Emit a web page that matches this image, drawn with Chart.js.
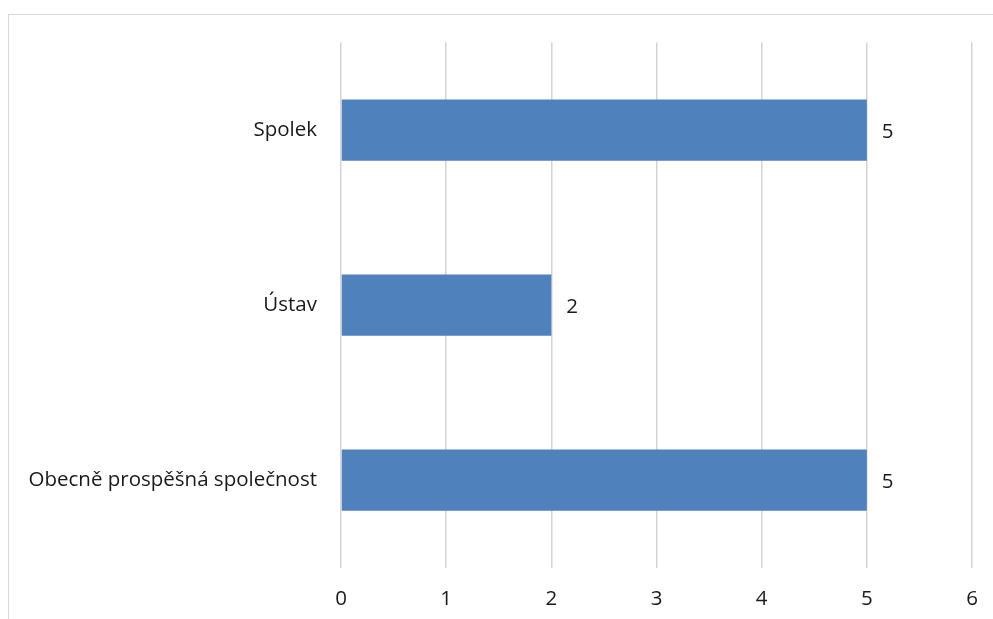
<!DOCTYPE html>
<html lang="cs">
<head>
  <meta charset="UTF-8" />
  <title>Právní forma</title>
  <script src="https://cdn.jsdelivr.net/npm/chart.js"></script>
  <style>
    html, body {
      margin: 0;
      padding: 0;
      background: #ffffff;
      overflow: hidden;
    }
    #frame {
      position: absolute;
      left: 8px;
      top: 14px;
      width: 1000px;
      height: 700px;
      border: 1px solid #d9d9d9;
    }
    #wrap {
      position: absolute;
      left: 0;
      top: 0;
      width: 993px;
      height: 619px;
    }
  </style>
</head>
<body>
  <div id="frame"></div>
  <div id="wrap"><canvas id="chart" width="993" height="619"></canvas></div>

  <script>
    const categories = ['Spolek', 'Ústav', 'Obecně prospěšná společnost'];
    const counts = [5, 2, 5];
    const xTicks = [0, 1, 2, 3, 4, 5, 6];

    const fontFamily = "'Open Sans', 'Noto Sans', sans-serif";
    const fontSize = 20.5;

    // writes the value just right of each bar end
    const valueLabels = {
      id: 'valueLabels',
      afterDatasetsDraw(chart) {
        const ctx = chart.ctx;
        const meta = chart.getDatasetMeta(0);
        ctx.save();
        ctx.font = fontSize + 'px ' + fontFamily;
        ctx.fillStyle = '#1a1a1a';
        ctx.textAlign = 'left';
        ctx.textBaseline = 'middle';
        meta.data.forEach((bar, i) => {
          ctx.fillText(String(counts[i]), bar.x + 15, bar.y + 2);
        });
        ctx.restore();
      }
    };

    new Chart(document.getElementById('chart'), {
      type: 'bar',
      data: {
        labels: categories,
        datasets: [{
          data: counts,
          backgroundColor: '#4f81bd',
          borderWidth: 0,
          categoryPercentage: 1,
          barPercentage: 0.35
        }]
      },
      options: {
        indexAxis: 'y',
        responsive: false,
        animation: false,
        layout: { padding: { top: 42.5, right: 21, bottom: 0, left: 0 } },
        plugins: {
          legend: { display: false },
          tooltip: { enabled: false }
        },
        scales: {
          x: {
            min: 0,
            max: 6,
            afterFit(scale) {
              scale.height = 51.5;
              scale.paddingLeft = 0;
              scale.paddingRight = 0;
            },
            afterBuildTicks(scale) { scale.ticks = xTicks.map(v => ({ value: v })); },
            grid: { color: '#d4d4d4', lineWidth: 1.5, drawTicks: false },
            border: { display: false },
            ticks: {
              padding: 19,
              color: '#1a1a1a',
              font: { family: fontFamily, size: fontSize }
            }
          },
          y: {
            afterFit(scale) { scale.width = 341; },
            grid: { display: false, drawTicks: false },
            border: { display: false },
            ticks: {
              padding: 24,
              color: '#1a1a1a',
              font: { family: fontFamily, size: fontSize }
            }
          }
        }
      },
      plugins: [valueLabels]
    });
  </script>
</body>
</html>
